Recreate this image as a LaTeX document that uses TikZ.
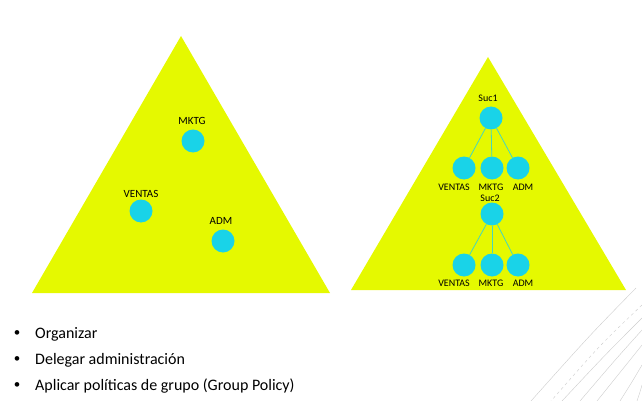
\documentclass[tikz,border=0pt]{standalone}
\usepackage{fontspec}
\setmainfont{Carlito}
\definecolor{ouyellow}{RGB}{229,249,0}
\definecolor{oucyan}{RGB}{25,211,232}
\definecolor{oulink}{RGB}{70,214,190}
\definecolor{deco}{RGB}{205,205,205}
\begin{document}
\begin{tikzpicture}[x=1pt,y=1pt]
    \tikzstyle{every node}+=[inner sep=0pt]
    \tikzstyle{ou}=[circle,fill=oucyan,minimum size=23pt]
    \tikzstyle{lbl}=[font=\fontsize{11}{13}\selectfont]
    \tikzstyle{slbl}=[font=\fontsize{10}{12}\selectfont]
    \tikzstyle{link}=[draw=oulink,line width=0.8pt]
    \tikzstyle{item}=[anchor=west,font=\fontsize{16}{18}\selectfont]
    \tikzstyle{dot}=[font=\fontsize{13}{15}\selectfont]
    \useasboundingbox (0,0) rectangle (642,-401);
    % left domain
    \fill [ouyellow] (181,-36) -- (330,-293) -- (32,-293) -- cycle;
    \node [ou] (mktg) at (193,-141) {};
    \node [lbl] (mktgl) at (192,-121) {MKTG};
    \node [ou] (ventas) at (141,-211) {};
    \node [lbl] (ventasl) at (141,-194) {VENTAS};
    \node [ou] (adm) at (223,-241) {};
    \node [lbl] (adml) at (221,-221) {ADM};
    % right domain
    \fill [ouyellow] (488,-57) -- (626,-290) -- (351,-290) -- cycle;
    \node [ou] (suc1) at (491,-118) {};
    \node [slbl] (suc1l) at (488,-98) {Suc1};
    \node [ou] (v1) at (464,-168) {};
    \node [ou] (m1) at (492,-168) {};
    \node [ou] (a1) at (518,-168) {};
    \node [slbl] (v1l) at (454,-187) {VENTAS};
    \node [slbl] (m1l) at (491,-187) {MKTG};
    \node [slbl] (a1l) at (523,-187) {ADM};
    \draw [link] (suc1) -- (v1);
    \draw [link] (suc1) -- (m1);
    \draw [link] (suc1) -- (a1);
    \node [ou] (suc2) at (492,-214) {};
    \node [slbl] (suc2l) at (490,-198) {Suc2};
    \node [ou] (v2) at (464,-265) {};
    \node [ou] (m2) at (492,-265) {};
    \node [ou] (a2) at (518,-265) {};
    \node [slbl] (v2l) at (454,-283) {VENTAS};
    \node [slbl] (m2l) at (491,-283) {MKTG};
    \node [slbl] (a2l) at (523,-283) {ADM};
    \draw [link] (suc2) -- (v2);
    \draw [link] (suc2) -- (m2);
    \draw [link] (suc2) -- (a2);
    % bullets
    \node [dot] (b1) at (17,-334) {\textbullet};
    \node [item] (t1) at (35,-334) {Organizar};
    \node [dot] (b2) at (17,-360) {\textbullet};
    \node [item] (t2) at (35,-360) {Delegar administración};
    \node [dot] (b3) at (17,-386) {\textbullet};
    \node [item] (t3) at (35,-386) {Aplicar políticas de grupo (Group Policy)};
    % corner lines
    \draw [deco,line width=0.4pt] (636,-288) .. controls (590,-335) .. (531,-401);
    \draw [deco,line width=0.4pt,dashed] (642,-305) .. controls (600,-345) .. (551,-401);
    \draw [deco,line width=0.4pt] (642,-318) .. controls (605,-355) .. (562,-401);
    \draw [deco,line width=0.4pt] (642,-330) .. controls (615,-360) .. (580,-401);
    \draw [deco,line width=0.4pt] (642,-345) .. controls (622,-370) .. (597,-401);
    \draw [deco,line width=0.4pt] (642,-365) .. controls (632,-382) .. (620,-401);
    \draw [deco,line width=0.4pt] (642,-385) .. controls (640,-392) .. (637,-401);
\end{tikzpicture}
\end{document}
